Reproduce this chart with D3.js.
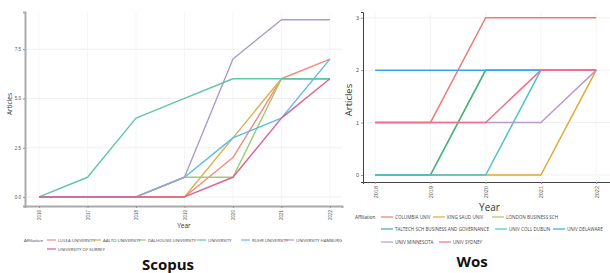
<!DOCTYPE html>
<html><head><meta charset="utf-8">
<script src="https://cdn.jsdelivr.net/npm/d3@7"></script>
<style>body{margin:0;background:#fff}svg{display:block;font-family:"Open Sans",Arial,sans-serif}</style>
</head><body><svg id="c" width="610" height="273"></svg>
<script>
// ---------- Scopus data ----------
const scopusYears = [2016, 2017, 2018, 2019, 2020, 2021, 2022];
const scopusNames = ["LULEA UNIVERSITY", "AALTO UNIVERSITY", "DALHOUSIE UNIVERSITY", "UNIVERSITY", "RUHR UNIVERSITY", "UNIVERSITY HAMBURG", "UNIVERSITY OF SURREY"];
const scopusA = [0, 0, 0, 0, 2, 6, 7];
const scopusB = [0, 0, 0, 0, 3, 6, 6];
const scopusC = [0, 0, 0, 1, 1, 6, 6];
const scopusD = [0, 1, 4, 5, 6, 6, 6];
const scopusE = [0, 0, 0, 1, 3, 4, 7];
const scopusF = [0, 0, 0, 1, 7, 9, 9];
const scopusG = [0, 0, 0, 0, 1, 4, 6];
const scopusYTicks = [0, 2.5, 5, 7.5];
const scopusColors = ["#f28b82", "#d8b04c", "#9dcc6e", "#5ec6a6", "#58bde6", "#ab9bc9", "#e0608f"];

// ---------- WoS data ----------
const wosYears = [2018, 2019, 2020, 2021, 2022];
const wosNames = ["COLUMBIA UNIV", "KING SAUD UNIV", "LONDON BUSINESS SCH", "TALTECH SCH BUSINESS AND GOVERNANCE", "UNIV COLL DUBLIN", "UNIV DELAWARE", "UNIV MINNESOTA", "UNIV SYDNEY"];
const wosA = [1, 1, 3, 3, 3];
const wosB = [0, 0, 0, 0, 2];
const wosC = [0, 0, 2, 2, 2];
const wosD = [0, 0, 2, 2, 2];
const wosE = [0, 0, 0, 2, 2];
const wosF = [2, 2, 2, 2, 2];
const wosG = [1, 1, 1, 1, 2];
const wosH = [1, 1, 1, 2, 2];
const wosYTicks = [0, 1, 2, 3];
const wosColors = ["#ee7a74", "#e0a838", "#a9c862", "#3fb38a", "#4cc3cf", "#3aa6e6", "#b99bcc", "#f0708f"];

const svg = d3.select("#c");

function panel(o) {
  const g = svg.append("g");
  const x = d3.scaleLinear().domain(o.xDomain).range([o.left, o.right]);
  const y = d3.scaleLinear().domain(o.yDomain).range([o.bottom, o.top]);
  // grid
  g.selectAll(".gy").data(o.yTicks).join("line")
    .attr("x1", o.left).attr("x2", o.right).attr("y1", d => y(d)).attr("y2", d => y(d))
    .attr("stroke", "#ececec").attr("stroke-width", 0.8);
  g.selectAll(".gx").data(o.years).join("line")
    .attr("y1", o.top).attr("y2", o.bottom).attr("x1", d => x(d)).attr("x2", d => x(d))
    .attr("stroke", "#f2f2f2").attr("stroke-width", 0.8);
  // lines
  const line = d3.line().x((d, i) => x(o.years[i])).y(d => y(d));
  o.series.forEach((s, i) => {
    g.append("path").attr("d", line(s)).attr("fill", "none")
      .attr("stroke", o.colors[i]).attr("stroke-width", o.lw).attr("stroke-linejoin", "round");
  });
  // axes
  const ya = g.append("g").attr("transform", `translate(${o.left},0)`)
    .call(d3.axisLeft(y).tickValues(o.yTicks).tickFormat(o.yFmt).tickSize(2).tickPadding(2));
  const xa = g.append("g").attr("transform", `translate(0,${o.bottom})`)
    .call(d3.axisBottom(x).tickValues(o.years).tickFormat(d3.format("d")).tickSize(2).tickPadding(2));
  [ya, xa].forEach(a => {
    a.select(".domain").attr("stroke", o.axisColor).attr("stroke-width", o.axisW);
    a.selectAll(".tick line").attr("stroke", "#999");
    a.selectAll("text").attr("fill", "#555").style("font-size", o.tickFont + "px").style("font-family", "Arial, sans-serif");
  });
  xa.selectAll("text").attr("transform", "rotate(-90)").attr("text-anchor", "end")
    .attr("dy", "0.35em").attr("x", -4).attr("y", 0);
  // axis titles
  g.append("text").attr("x", (o.left + o.right) / 2 + o.yearDx).attr("y", o.yearY).attr("text-anchor", "middle")
    .attr("fill", "#333").style("font-size", o.titleFont + "px").text("Year");
  g.append("text").attr("transform", `translate(${o.artX},${o.artY}) rotate(-90)`).attr("text-anchor", "middle")
    .attr("fill", "#333").style("font-size", o.artFont + "px").text("Articles");
  // legend
  g.append("text").attr("x", o.legX).attr("y", o.legRows[0] + o.legFont * 0.35).attr("fill", "#333")
    .style("font-size", o.legFont + "px").text("Affiliation");
  o.legItems.forEach((it, i) => {
    const yy = o.legRows[it.row];
    g.append("line").attr("x1", it.x).attr("x2", it.x + o.legLine).attr("y1", yy).attr("y2", yy)
      .attr("stroke", o.colors[i]).attr("stroke-width", 1.2);
    g.append("text").attr("x", it.x + o.legLine + 2).attr("y", yy + o.legFont * 0.35).attr("fill", "#444")
      .style("font-size", o.legFont + "px").text(o.names[i]);
  });
  g.append("text").attr("x", o.capX).attr("y", o.capY).attr("text-anchor", "middle")
    .attr("fill", "#111").style("font-size", "15px").style("font-weight", "bold").text(o.caption);
}

panel({
  years: scopusYears, names: scopusNames, colors: scopusColors,
  series: [scopusA, scopusB, scopusC, scopusD, scopusE, scopusF, scopusG],
  xDomain: [2015.71, 2022.25], yDomain: [-0.46, 9.39],
  left: 25, right: 342, top: 12, bottom: 206,
  yTicks: scopusYTicks, yFmt: d3.format(".1f"), lw: 1.4,
  axisColor: "#aaa", axisW: 2, tickFont: 4.5, titleFont: 6.5, artFont: 6.5,
  yearDx: 0.5, yearY: 228, artX: 12, artY: 104,
  legX: 24, legFont: 4.3, legLine: 9, legRows: [240, 249],
  legItems: [{x: 47, row: 0}, {x: 92, row: 0}, {x: 137, row: 0}, {x: 197, row: 0}, {x: 241, row: 0}, {x: 285, row: 0}, {x: 47, row: 1}],
  caption: "Scopus", capX: 168, capY: 270
});

panel({
  years: wosYears, names: wosNames, colors: wosColors,
  series: [wosA, wosB, wosC, wosD, wosE, wosF, wosG, wosH],
  xDomain: [2017.78, 2022.25], yDomain: [-0.134, 3.11],
  left: 363, right: 610, top: 12, bottom: 182,
  yTicks: wosYTicks, yFmt: d3.format("d"), lw: 1.5,
  axisColor: "#444", axisW: 1, tickFont: 5.5, titleFont: 10, artFont: 9.5,
  yearDx: 3, yearY: 211, artX: 352, artY: 100,
  legX: 355, legFont: 4.6, legLine: 12, legRows: [217, 229, 242],
  legItems: [{x: 381, row: 0}, {x: 433, row: 0}, {x: 492, row: 0}, {x: 381, row: 1}, {x: 495, row: 1}, {x: 553, row: 1}, {x: 381, row: 2}, {x: 439, row: 2}],
  caption: "Wos", capX: 472, capY: 267
});
</script></body></html>
